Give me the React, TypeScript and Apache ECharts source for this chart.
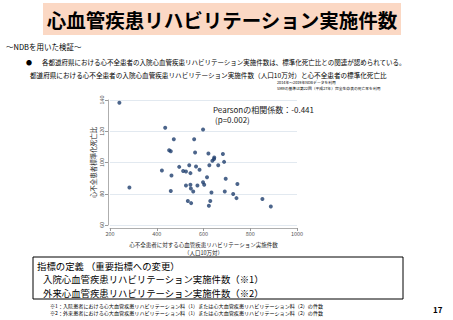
import React, { useEffect, useRef } from "react";
import * as echarts from "echarts";

const rehabCount: number[] = [240, 283, 436, 473, 453, 460, 422, 463, 496, 513, 525, 539, 544, 525, 544, 546, 556, 460, 533, 547, 560, 564, 568, 574, 583, 598, 598, 603, 615, 621, 625, 634, 629, 623, 638, 645, 646, 663, 683, 688, 691, 695, 727, 741, 745, 852, 888];
const smr: number[] = [138.3, 84.0, 122.3, 114.9, 107.9, 107.2, 94.9, 91.7, 97.2, 94.5, 94.2, 98.3, 93.2, 85.3, 85.7, 83.4, 81.5, 81.7, 75.3, 74.0, 114.9, 106.4, 97.4, 85.3, 95.3, 121.1, 87.4, 85.7, 90.6, 105.7, 98.3, 80.8, 75.3, 72.3, 101.1, 102.3, 103.2, 98.3, 105.5, 100.4, 81.5, 89.6, 79.8, 77.2, 86.2, 76.6, 71.9];
const xTicks = { min: 200, max: 1000, step: 200 };
const yTicks = { min: 60, max: 140, step: 20 };

const FONT = "'Noto Sans CJK JP', 'Noto Sans', sans-serif";

export default function App() {
  const ref = useRef<HTMLDivElement>(null);
  useEffect(() => {
    document.body.style.margin = "0";
    const chart = echarts.init(ref.current!, null, { renderer: "svg" });
    const pts = rehabCount.map((x, i) => [x, smr[i]]);
    const t = (x: number, y: number, text: string, size: number, extra: any = {}) => ({
      type: "text",
      x,
      y,
      style: { text, fontSize: size, fontFamily: FONT, fill: "#000", textVerticalAlign: "middle", lineHeight: size, ...extra },
      silent: true,
    });
    chart.setOption({
      animation: false,
      backgroundColor: "#fff",
      grid: { left: 110, right: 156, top: 100, bottom: 95 },
      xAxis: {
        type: "value",
        min: xTicks.min,
        max: xTicks.max,
        interval: xTicks.step,
        offset: 3,
        axisLine: { show: true, lineStyle: { color: "#999", width: 0.8 } },
        axisTick: { show: true, length: 3, lineStyle: { color: "#999" } },
        splitLine: { show: false },
        axisLabel: { fontSize: 5.5, color: "#555", fontFamily: FONT, margin: 3, formatter: (v: number) => String(v) },
        name: "心不全患者に対する心血管疾患リハビリテーション実施件数\n（人口10万対）",
        nameLocation: "middle",
        nameGap: 13,
        nameTextStyle: { fontSize: 5.5, color: "#222", fontFamily: FONT, lineHeight: 8 },
      },
      yAxis: {
        type: "value",
        min: yTicks.min,
        max: yTicks.max,
        interval: yTicks.step,
        offset: 2,
        axisLine: { show: true, lineStyle: { color: "#999", width: 0.8 } },
        axisTick: { show: true, length: 3, lineStyle: { color: "#999" } },
        splitLine: { show: true, lineStyle: { color: "#dbe3ec", width: 0.8 } },
        axisLabel: { fontSize: 5.5, color: "#555", fontFamily: FONT, rotate: 90, margin: 3 },
        name: "心不全患者標準化死亡比",
        nameLocation: "middle",
        nameGap: 12,
        nameRotate: 90,
        nameTextStyle: { fontSize: 6.5, color: "#222", fontFamily: FONT },
      },
      series: [
        {
          type: "scatter",
          data: pts,
          symbolSize: 4,
          itemStyle: { color: "#1f3f6e" },
        },
      ],
      graphic: [
        { type: "rect", shape: { x: 43, y: 3, width: 358, height: 32 }, style: { fill: "#fbd8c4" }, silent: true },
        t(222, 19, "心血管疾患リハビリテーション実施件数", 19.5, { fontWeight: "bold", textAlign: "center" }),
        t(6, 46, "～NDBを用いた検証～", 7.5),
        t(26, 62, "●", 6),
        t(42, 62, "各都道府県における心不全患者の入院心血管疾患リハビリテーション実施件数は、標準化死亡比との関連が認められている。", 6.5),
        t(30, 75, "都道府県における心不全患者の入院心血管疾患リハビリテーション実施件数（人口10万対）と心不全患者の標準化死亡比", 6.6),
        t(277, 82, "2014年～2019年NDBデータを利用", 3.8),
        t(277, 88, "SMRの基準は第22回（平成27年）完全生命表の死亡率を利用", 3.8),
        t(213, 109, "Pearsonの相関係数：-0.441", 8, { fill: "#222" }),
        t(215, 119, "(p=0.002)", 8, { fill: "#222" }),
        { type: "rect", shape: { x: 33, y: 257, width: 370, height: 42 }, style: { fill: "none", stroke: "#000", lineWidth: 1 }, silent: true },
        t(37, 265.6, "指標の定義 （重要指標への変更）", 9.4),
        t(43, 279.3, "入院心血管疾患リハビリテーション実施件数（※1）", 9.4),
        t(43, 293, "外来心血管疾患リハビリテーション実施件数（※2）", 9.4),
        t(50, 305.5, "※1：入院患者における心大血管疾患リハビリテーション料（1）または心大血管疾患リハビリテーション料（2）の件数", 5.1),
        t(50, 312.5, "※2：外来患者における心大血管疾患リハビリテーション料（1）または心大血管疾患リハビリテーション料（2）の件数", 5.1),
        t(433, 309, "17", 8, { fontWeight: "bold" }),
      ],
    });
    return () => chart.dispose();
  }, []);
  return <div ref={ref} style={{ width: 453, height: 320 }} />;
}
